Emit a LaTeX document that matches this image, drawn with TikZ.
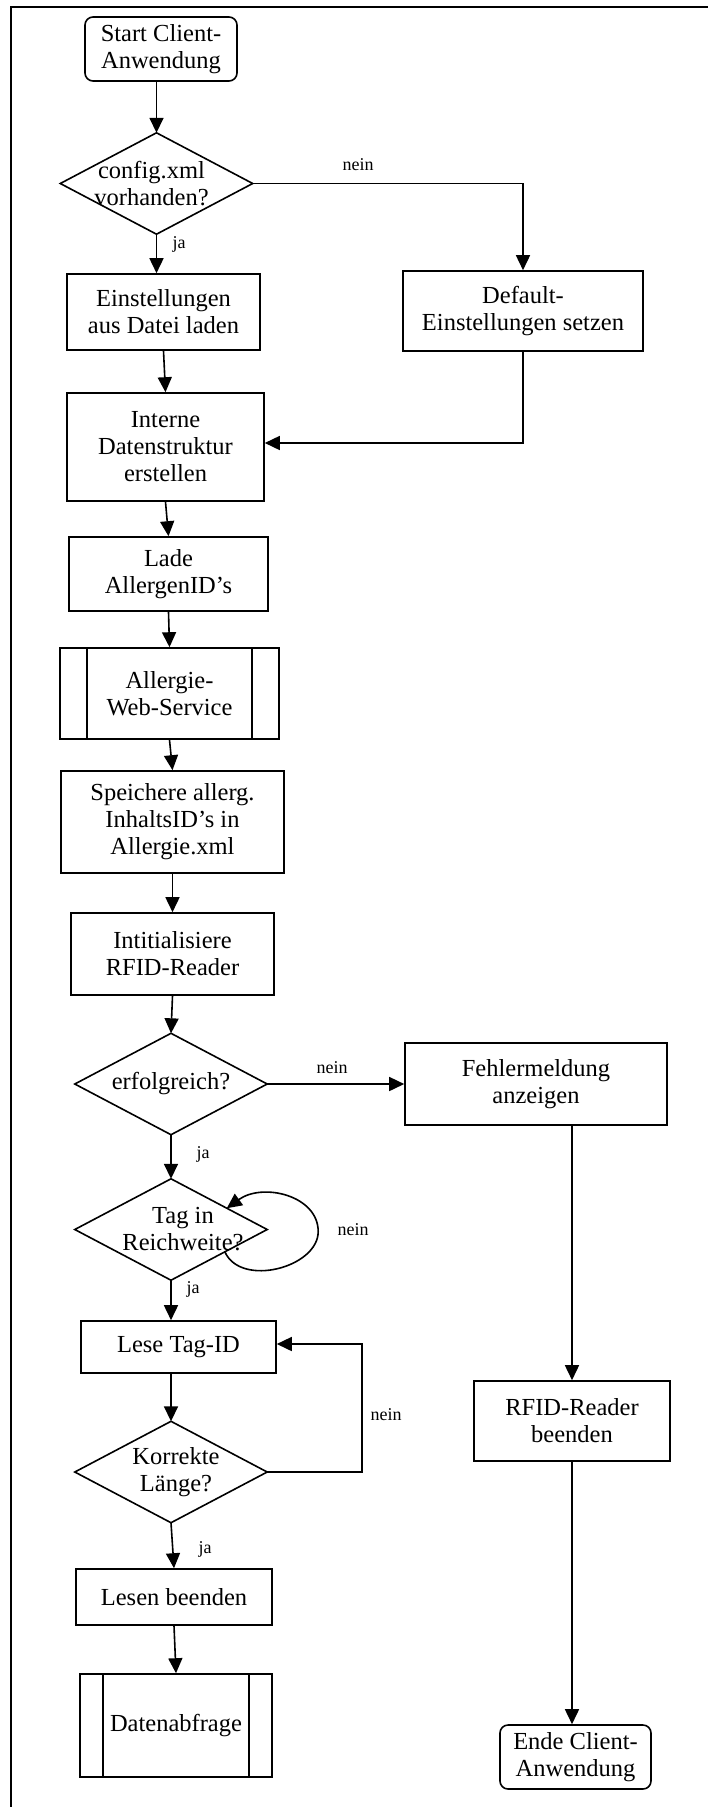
\documentclass[tikz,border=0pt]{standalone}
\usepackage{fontspec}
\setmainfont{Liberation Serif}
\usetikzlibrary{arrows.meta,calc}
\begin{document}
\begin{tikzpicture}[x=1pt,y=-1pt,
  every node/.style={inner sep=0pt, align=center, font=\fontsize{24.5}{27}\selectfont},
  procbox/.style={draw, line width=1.6pt},
  termbox/.style={procbox, rounded corners=8pt},
  subproc/.style={procbox, path picture={
      \draw[line width=1.6pt]
        ([xshift=#1]path picture bounding box.north west) -- ([xshift=#1]path picture bounding box.south west)
        ([xshift=-#1]path picture bounding box.north east) -- ([xshift=-#1]path picture bounding box.south east);}},
  decision/.style={minimum width=192pt, minimum height=101pt},
  flow/.style={line width=1.6pt, -{Triangle[length=15pt,width=14pt]}},
  tag/.style={font=\fontsize{18}{20}\selectfont}
]
\useasboundingbox (0,0) rectangle (708,1807);

% page frame (top and left rule)
\draw[line width=2pt] (708,7) -- (11,7) -- (11,1807);

% left column
\node[termbox, minimum width=152pt, minimum height=64pt] (start) at (161,49) {Start Client-\\Anwendung};
\node[decision] (d1) at (156.5,183.5) {config.xml\hspace*{10pt}\\vorhanden?\hspace*{10pt}};
\node[procbox, minimum width=193pt, minimum height=76pt] (settings) at (163.5,312) {Einstellungen\\aus Datei laden};
\node[procbox, minimum width=197pt, minimum height=108pt] (intern) at (165.5,447) {Interne\\Datenstruktur\\erstellen};
\node[procbox, minimum width=199pt, minimum height=74pt] (lade) at (168.5,574) {Lade\\AllergenID’s};
\node[subproc=27pt, minimum width=219pt, minimum height=91pt] (ws) at (169.5,693.5) {Allergie-\\Web-Service};
\node[procbox, minimum width=223pt, minimum height=102pt] (speichere) at (172.5,822) {Speichere allerg.\\InhaltsID’s in\\Allergie.xml};
\node[procbox, minimum width=203pt, minimum height=82pt] (init) at (172.5,954) {Intitialisiere\\RFID-Reader};
\node[decision] (d2) at (171,1084) {erfolgreich?};
\node[decision] (d3) at (171,1229.5) {\hspace*{24pt}Tag in\\\hspace*{24pt}Reichweite?};
\node[procbox, minimum width=195pt, minimum height=52pt] (lese) at (178.5,1347) {Lese Tag-ID};
\node[decision] (d4) at (171,1472) {\hspace*{10pt}Korrekte\\\hspace*{10pt}Länge?};
\node[procbox, minimum width=196pt, minimum height=56pt] (lesen) at (174,1597) {Lesen beenden};
\node[subproc=23pt, minimum width=192pt, minimum height=103pt] (daten) at (176,1725.5) {Datenabfrage};

% right column
\node[procbox, minimum width=240pt, minimum height=80pt] (default) at (523,311) {Default-\\Einstellungen setzen};
\node[procbox, minimum width=262pt, minimum height=82pt] (fehler) at (536,1084) {Fehlermeldung\\anzeigen};
\node[procbox, minimum width=196pt, minimum height=80pt] (rfidend) at (572,1421) {RFID-Reader\\beenden};
\node[termbox, minimum width=151pt, minimum height=64pt] (ende) at (575.5,1757) {Ende Client-\\Anwendung};

% decision outlines
\foreach \d in {d1,d2,d3,d4}
  \draw[procbox] (\d.north) -- (\d.east) -- (\d.south) -- (\d.west) -- cycle;

% branch labels
\node[tag] (n1) at (358,165) {nein};
\node[tag] (j1) at (179,244) {ja};
\node[tag] (n2) at (332,1068) {nein};
\node[tag] (j2) at (203,1154) {ja};
\node[tag] (n3) at (353,1230) {nein};
\node[tag] (j3) at (193,1289) {ja};
\node[tag] (n4) at (386,1415) {nein};
\node[tag] (j4) at (205,1549) {ja};

% connectors
\draw[flow] (start.south -| d1.north) -- (d1.north);
\draw[flow] (d1.south) -- (d1.south |- settings.north);
\draw[flow] (d1.east) -| (default.north);
\draw[flow] (settings.south) -- (intern.north);
\draw[flow] (default.south) |- ($(intern.east)+(0,-4)$);
\draw[flow] (intern.south) -- (lade.north);
\draw[flow] (lade.south) -- (ws.north);
\draw[flow] (ws.south) -- (speichere.north);
\draw[flow] (speichere.south) -- (init.north);
\draw[flow] (init.south) -- (d2.north);
\draw[flow] (d2.east) -- (fehler.west);
\draw[flow] (d2.south) -- (d3.north);
\draw[flow] ($(d3.east)!0.44!(d3.south)$)
  .. controls +(16,36) and +(0,36) .. ($(d3.east)+(51,2)$)
  .. controls +(0,-36) and +(36,-26) .. ($(d3.east)!0.42!(d3.north)$);
\draw[flow] (d3.south) -- (d3.south |- lese.north);
\draw[flow] (lese.south -| d4.north) -- (d4.north);
\draw[flow] (d4.east) -- ++(95,0) |- ($(lese.east)+(0,-3)$);
\draw[flow] (d4.south) -- (lesen.north);
\draw[flow] (lesen.south) -- (daten.north);
\draw[flow] (rfidend.north |- fehler.south) -- (rfidend.north);
\draw[flow] (rfidend.south) -- (rfidend.south |- ende.north);
\end{tikzpicture}
\end{document}
